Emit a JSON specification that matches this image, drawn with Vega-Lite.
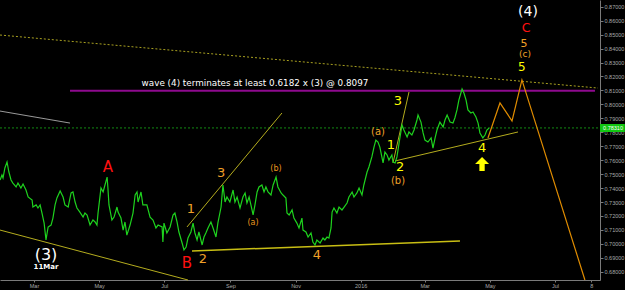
{
 "$schema": "https://vega.github.io/schema/vega-lite/v6.json",
 "width": 600,
 "height": 280,
 "autosize": {"type": "none"},
 "padding": {"left": 0, "top": 0, "right": 25, "bottom": 10},
 "background": "#000000",
 "config": {
  "view": {"stroke": null},
  "axis": {"domainColor": "#7a7a7a", "tickColor": "#7a7a7a", "labelColor": "#a8a8a8", "labelFont": "Liberation Sans", "labelFontSize": 5.5, "grid": false, "title": null, "labelOverlap": false, "labelFlush": false}
 },
 "datasets": {
  "price": [
   {"t":"2015-01-28T06:00","p":0.7458},{"t":"2015-01-30T00:00","p":0.7494},{"t":"2015-01-31T00:00","p":0.7472},{"t":"2015-02-01T18:00","p":0.7544},{"t":"2015-02-03T18:00","p":0.7587},{"t":"2015-02-05T12:00","p":0.7515},{"t":"2015-02-07T12:00","p":0.7458},{"t":"2015-02-09T06:00","p":0.7436},{"t":"2015-02-12T06:00","p":0.7408},{"t":"2015-02-14T00:00","p":0.7436},{"t":"2015-02-16T18:00","p":0.7400},{"t":"2015-02-18T18:00","p":0.7429},{"t":"2015-02-21T12:00","p":0.7386},{"t":"2015-02-23T12:00","p":0.7336},{"t":"2015-02-27T06:00","p":0.7314},{"t":"2015-02-28T00:00","p":0.7264},{"t":"2015-03-03T00:00","p":0.7279},{"t":"2015-03-04T18:00","p":0.7257},{"t":"2015-03-06T18:00","p":0.7279},{"t":"2015-03-08T12:00","p":0.7221},{"t":"2015-03-10T12:00","p":0.7149},{"t":"2015-03-12T06:00","p":0.7028},{"t":"2015-03-14T06:00","p":0.7121},{"t":"2015-03-17T00:00","p":0.7135},{"t":"2015-03-18T18:00","p":0.7185},{"t":"2015-03-20T18:00","p":0.7279},{"t":"2015-03-22T12:00","p":0.7329},{"t":"2015-03-25T12:00","p":0.7379},{"t":"2015-03-28T06:00","p":0.7336},{"t":"2015-03-30T00:00","p":0.7279},{"t":"2015-04-02T00:00","p":0.7264},{"t":"2015-04-04T18:00","p":0.7365},{"t":"2015-04-06T12:00","p":0.7372},{"t":"2015-04-08T12:00","p":0.7300},{"t":"2015-04-10T06:00","p":0.7257},{"t":"2015-04-13T00:00","p":0.7228},{"t":"2015-04-16T00:00","p":0.7192},{"t":"2015-04-17T18:00","p":0.7221},{"t":"2015-04-19T18:00","p":0.7207},{"t":"2015-04-22T12:00","p":0.7135},{"t":"2015-04-25T06:00","p":0.7171},{"t":"2015-04-27T06:00","p":0.7157},{"t":"2015-04-29T00:00","p":0.7135},{"t":"2015-04-30T00:00","p":0.7221},{"t":"2015-05-02T18:00","p":0.7400},{"t":"2015-05-04T18:00","p":0.7372},{"t":"2015-05-06T12:00","p":0.7422},{"t":"2015-05-08T12:00","p":0.7479},{"t":"2015-05-09T06:00","p":0.7400},{"t":"2015-05-10T06:00","p":0.7279},{"t":"2015-05-13T00:00","p":0.7171},{"t":"2015-05-15T00:00","p":0.7192},{"t":"2015-05-17T18:00","p":0.7264},{"t":"2015-05-18T18:00","p":0.7228},{"t":"2015-05-21T12:00","p":0.7185},{"t":"2015-05-23T12:00","p":0.7099},{"t":"2015-05-25T06:00","p":0.7157},{"t":"2015-05-27T00:00","p":0.7063},{"t":"2015-05-30T00:00","p":0.7135},{"t":"2015-06-01T18:00","p":0.7221},{"t":"2015-06-03T18:00","p":0.7350},{"t":"2015-06-05T12:00","p":0.7372},{"t":"2015-06-06T12:00","p":0.7300},{"t":"2015-06-09T06:00","p":0.7372},{"t":"2015-06-11T00:00","p":0.7279},{"t":"2015-06-14T18:00","p":0.7279},{"t":"2015-06-17T18:00","p":0.7192},{"t":"2015-06-20T12:00","p":0.7171},{"t":"2015-06-23T06:00","p":0.7114},{"t":"2015-06-25T06:00","p":0.7135},{"t":"2015-06-29T00:00","p":0.7121},{"t":"2015-06-29T18:00","p":0.7013},{"t":"2015-06-30T18:00","p":0.7149},{"t":"2015-07-03T12:00","p":0.7078},{"t":"2015-07-06T12:00","p":0.7121},{"t":"2015-07-09T06:00","p":0.7207},{"t":"2015-07-11T00:00","p":0.7221},{"t":"2015-07-13T00:00","p":0.7157},{"t":"2015-07-14T18:00","p":0.7085},{"t":"2015-07-17T18:00","p":0.7006},{"t":"2015-07-19T12:00","p":0.6956},{"t":"2015-07-21T12:00","p":0.6977},{"t":"2015-07-23T06:00","p":0.7042},{"t":"2015-07-26T00:00","p":0.7085},{"t":"2015-07-28T00:00","p":0.7149},{"t":"2015-07-29T18:00","p":0.7078},{"t":"2015-07-31T18:00","p":0.7028},{"t":"2015-08-02T12:00","p":0.7085},{"t":"2015-08-05T12:00","p":0.6992},{"t":"2015-08-07T06:00","p":0.7049},{"t":"2015-08-09T00:00","p":0.7078},{"t":"2015-08-11T00:00","p":0.7114},{"t":"2015-08-13T18:00","p":0.7157},{"t":"2015-08-15T18:00","p":0.7114},{"t":"2015-08-18T12:00","p":0.7049},{"t":"2015-08-20T06:00","p":0.7149},{"t":"2015-08-23T06:00","p":0.7264},{"t":"2015-08-25T00:00","p":0.7422},{"t":"2015-08-27T00:00","p":0.7300},{"t":"2015-08-28T18:00","p":0.7336},{"t":"2015-08-31T12:00","p":0.7300},{"t":"2015-09-03T12:00","p":0.7386},{"t":"2015-09-05T06:00","p":0.7300},{"t":"2015-09-07T06:00","p":0.7336},{"t":"2015-09-10T00:00","p":0.7257},{"t":"2015-09-12T18:00","p":0.7336},{"t":"2015-09-14T18:00","p":0.7365},{"t":"2015-09-16T12:00","p":0.7293},{"t":"2015-09-18T12:00","p":0.7336},{"t":"2015-09-21T06:00","p":0.7243},{"t":"2015-09-22T06:00","p":0.7207},{"t":"2015-09-24T00:00","p":0.7279},{"t":"2015-09-26T00:00","p":0.7372},{"t":"2015-09-27T18:00","p":0.7408},{"t":"2015-09-30T12:00","p":0.7422},{"t":"2015-10-02T12:00","p":0.7372},{"t":"2015-10-04T06:00","p":0.7408},{"t":"2015-10-06T06:00","p":0.7372},{"t":"2015-10-09T00:00","p":0.7350},{"t":"2015-10-11T00:00","p":0.7422},{"t":"2015-10-13T18:00","p":0.7479},{"t":"2015-10-15T12:00","p":0.7408},{"t":"2015-10-18T12:00","p":0.7365},{"t":"2015-10-20T06:00","p":0.7350},{"t":"2015-10-23T00:00","p":0.7329},{"t":"2015-10-24T00:00","p":0.7221},{"t":"2015-10-26T00:00","p":0.7207},{"t":"2015-10-28T18:00","p":0.7243},{"t":"2015-10-30T12:00","p":0.7185},{"t":"2015-11-02T06:00","p":0.7149},{"t":"2015-11-04T06:00","p":0.7114},{"t":"2015-11-07T00:00","p":0.7185},{"t":"2015-11-08T00:00","p":0.7099},{"t":"2015-11-10T18:00","p":0.7085},{"t":"2015-11-12T18:00","p":0.7049},{"t":"2015-11-15T12:00","p":0.7078},{"t":"2015-11-17T06:00","p":0.7013},{"t":"2015-11-19T06:00","p":0.6992},{"t":"2015-11-21T00:00","p":0.7028},{"t":"2015-11-24T00:00","p":0.7006},{"t":"2015-11-26T18:00","p":0.7042},{"t":"2015-11-28T12:00","p":0.7028},{"t":"2015-11-30T12:00","p":0.7049},{"t":"2015-12-02T06:00","p":0.7042},{"t":"2015-12-04T06:00","p":0.7114},{"t":"2015-12-05T06:00","p":0.7228},{"t":"2015-12-07T00:00","p":0.7257},{"t":"2015-12-09T18:00","p":0.7221},{"t":"2015-12-11T18:00","p":0.7264},{"t":"2015-12-14T12:00","p":0.7243},{"t":"2015-12-16T12:00","p":0.7264},{"t":"2015-12-19T06:00","p":0.7293},{"t":"2015-12-21T00:00","p":0.7336},{"t":"2015-12-24T00:00","p":0.7372},{"t":"2015-12-25T18:00","p":0.7336},{"t":"2015-12-28T12:00","p":0.7365},{"t":"2015-12-30T12:00","p":0.7400},{"t":"2016-01-02T06:00","p":0.7350},{"t":"2016-01-04T00:00","p":0.7422},{"t":"2016-01-07T00:00","p":0.7515},{"t":"2016-01-08T18:00","p":0.7551},{"t":"2016-01-11T12:00","p":0.7623},{"t":"2016-01-13T12:00","p":0.7694},{"t":"2016-01-15T06:00","p":0.7744},{"t":"2016-01-17T06:00","p":0.7730},{"t":"2016-01-19T00:00","p":0.7694},{"t":"2016-01-22T00:00","p":0.7580},{"t":"2016-01-23T18:00","p":0.7658},{"t":"2016-01-25T18:00","p":0.7637},{"t":"2016-01-27T12:00","p":0.7601},{"t":"2016-01-30T06:00","p":0.7637},{"t":"2016-01-31T06:00","p":0.7587},{"t":"2016-02-02T06:00","p":0.7580},{"t":"2016-02-04T00:00","p":0.7623},{"t":"2016-02-06T00:00","p":0.7723},{"t":"2016-02-08T18:00","p":0.7852},{"t":"2016-02-10T12:00","p":0.7816},{"t":"2016-02-13T12:00","p":0.7766},{"t":"2016-02-15T06:00","p":0.7802},{"t":"2016-02-18T00:00","p":0.7780},{"t":"2016-02-20T00:00","p":0.7816},{"t":"2016-02-22T18:00","p":0.7888},{"t":"2016-02-23T18:00","p":0.7924},{"t":"2016-02-26T12:00","p":0.7873},{"t":"2016-02-28T12:00","p":0.7795},{"t":"2016-03-01T06:00","p":0.7744},{"t":"2016-03-04T00:00","p":0.7730},{"t":"2016-03-07T00:00","p":0.7759},{"t":"2016-03-08T18:00","p":0.7687},{"t":"2016-03-10T18:00","p":0.7759},{"t":"2016-03-12T12:00","p":0.7816},{"t":"2016-03-15T06:00","p":0.7873},{"t":"2016-03-18T06:00","p":0.7838},{"t":"2016-03-20T00:00","p":0.7888},{"t":"2016-03-22T00:00","p":0.7924},{"t":"2016-03-24T18:00","p":0.7873},{"t":"2016-03-27T12:00","p":0.7866},{"t":"2016-03-29T06:00","p":0.7902},{"t":"2016-03-31T06:00","p":0.7960},{"t":"2016-04-02T00:00","p":0.8031},{"t":"2016-04-05T00:00","p":0.8110},{"t":"2016-04-06T18:00","p":0.8081},{"t":"2016-04-08T18:00","p":0.8031},{"t":"2016-04-10T12:00","p":0.7960},{"t":"2016-04-13T06:00","p":0.7938},{"t":"2016-04-15T06:00","p":0.7945},{"t":"2016-04-18T00:00","p":0.7909},{"t":"2016-04-20T00:00","p":0.7866},{"t":"2016-04-21T18:00","p":0.7795},{"t":"2016-04-24T12:00","p":0.7759},{"t":"2016-04-26T12:00","p":0.7780},{"t":"2016-04-28T06:00","p":0.7816},{"t":"2016-04-30T06:00","p":0.7830}
  ],
  "lines": [
   {"g":"upper","t":"2015-01-28T04:00","p":0.8497},{"g":"upper","t":"2016-08-10T07:00","p":0.8117},
   {"g":"purple","t":"2015-04-03T18:00","p":0.8097},{"g":"purple","t":"2016-08-07T12:00","p":0.8097},
   {"g":"grey","t":"2015-01-28T04:00","p":0.7952},{"g":"grey","t":"2015-04-03T18:00","p":0.7866},
   {"g":"current","t":"2015-01-28T04:00","p":0.7831},{"g":"current","t":"2016-08-12T05:00","p":0.7831},
   {"g":"lower","t":"2015-01-28T04:00","p":0.7099},{"g":"lower","t":"2015-07-23T06:00","p":0.6741},
   {"g":"r13","t":"2015-07-22T08:00","p":0.7121},{"g":"r13","t":"2015-10-19T07:00","p":0.7938},
   {"g":"base","t":"2015-07-27T00:00","p":0.6949},{"g":"base","t":"2016-04-03T01:00","p":0.7020},
   {"g":"l24","t":"2016-02-02T04:00","p":0.7594},{"g":"l24","t":"2016-05-27T10:00","p":0.7802},
   {"g":"l23","t":"2016-01-31T07:00","p":0.7580},{"g":"l23","t":"2016-02-15T07:00","p":0.8089}
  ],
  "projection": [
   {"t":"2016-04-29T06:00","p":0.7759},{"t":"2016-05-10T12:00","p":0.8010},{"t":"2016-05-21T19:00","p":0.7881},{"t":"2016-05-31T02:00","p":0.8175},{"t":"2016-07-29T02:00","p":0.6741}
  ]
 },
 "encoding": {
  "x": {"field": "t", "type": "temporal",
        "scale": {"domain": ["2015-01-28T04:00", "2016-08-12T05:00"]},
        "axis": {"orient": "bottom", "tickSize": 2, "labelPadding": 1,
                 "values": [{"year":2015,"month":3,"date":1},{"year":2015,"month":5,"date":1},{"year":2015,"month":7,"date":1},{"year":2015,"month":9,"date":1},{"year":2015,"month":11,"date":1},{"year":2016,"month":1,"date":1},{"year":2016,"month":3,"date":1},{"year":2016,"month":5,"date":1},{"year":2016,"month":7,"date":1},{"year":2016,"month":8,"date":4}],
                 "labelExpr": "month(datum.value) == 0 ? '2016' : (month(datum.value) == 7 ? '8' : timeFormat(datum.value, '%b'))"}},
  "y": {"field": "p", "type": "quantitative",
        "scale": {"domain": [0.6741, 0.8748], "zero": false, "nice": false},
        "axis": {"orient": "right", "tickSize": 3, "labelPadding": 1, "format": ".5f",
                 "values": [0.68,0.69,0.70,0.71,0.72,0.73,0.74,0.75,0.76,0.77,0.78,0.79,0.80,0.81,0.82,0.83,0.84,0.85,0.86,0.87]}}
 },
 "layer": [
  {"data": {"name": "lines"}, "transform": [{"filter": "datum.g == 'current'"}], "mark": {"type": "line", "color": "#138a13", "strokeWidth": 1, "strokeDash": [2, 2]}},
  {"data": {"name": "lines"}, "transform": [{"filter": "datum.g == 'upper'"}], "mark": {"type": "line", "color": "#a8a020", "strokeWidth": 1, "strokeDash": [2, 2]}},
  {"data": {"name": "lines"}, "transform": [{"filter": "datum.g == 'purple'"}], "mark": {"type": "line", "color": "#8e0a8e", "strokeWidth": 2}},
  {"data": {"name": "lines"}, "transform": [{"filter": "datum.g == 'grey'"}], "mark": {"type": "line", "color": "#9a9a9a", "strokeWidth": 1}},
  {"data": {"name": "lines"}, "transform": [{"filter": "datum.g == 'lower' || datum.g == 'r13' || datum.g == 'l24' || datum.g == 'l23'"}], "mark": {"type": "line", "color": "#b4ac1e", "strokeWidth": 1}, "encoding": {"detail": {"field": "g"}}},
  {"data": {"name": "lines"}, "transform": [{"filter": "datum.g == 'base'"}], "mark": {"type": "line", "color": "#c8be14", "strokeWidth": 1.5}},
  {"data": {"name": "price"}, "mark": {"type": "line", "color": "#1ed21e", "strokeWidth": 1.2}},
  {"data": {"name": "projection"}, "mark": {"type": "line", "color": "#e08c00", "strokeWidth": 1.2}},
  {"data": {"values": [{"t":"2015-09-24T00:00","p":0.8153,"s":"wave (4) terminates at least 0.6182 x (3) @ 0.8097"}]},
   "mark": {"type": "text", "color": "#ffffff", "font": "DejaVu Sans", "fontSize": 8.8, "align": "center", "baseline": "middle"}, "encoding": {"text": {"field": "s"}}},
  {"data": {"values": [{"t":"2015-05-09T08:00","p":0.7551,"s":"A"},{"t":"2015-07-22T08:00","p":0.6863,"s":"B"}]},
   "mark": {"type": "text", "color": "#ff1010", "font": "DejaVu Sans", "fontSize": 15, "align": "center", "baseline": "middle"}, "encoding": {"text": {"field": "s"}}},
  {"data": {"values": [{"t":"2016-06-03T22:00","p":0.8545,"s":"C"}]},
   "mark": {"type": "text", "color": "#ff1010", "font": "DejaVu Sans", "fontSize": 12.5, "align": "center", "baseline": "middle"}, "encoding": {"text": {"field": "s"}}},
  {"data": {"values": [{"t":"2015-03-12T06:00","p":0.6920,"s":"(3)"}]},
   "mark": {"type": "text", "color": "#ffffff", "font": "DejaVu Sans", "fontSize": 16, "align": "center", "baseline": "middle"}, "encoding": {"text": {"field": "s"}}},
  {"data": {"values": [{"t":"2016-06-05T17:00","p":0.8662,"s":"(4)"}]},
   "mark": {"type": "text", "color": "#ffffff", "font": "DejaVu Sans", "fontSize": 14, "align": "center", "baseline": "middle"}, "encoding": {"text": {"field": "s"}}},
  {"data": {"values": [{"t":"2015-03-12T06:00","p":0.6834,"s":"11Mar"}]},
   "mark": {"type": "text", "color": "#ffffff", "font": "DejaVu Sans", "fontSize": 7, "fontWeight": "bold", "align": "center", "baseline": "middle"}, "encoding": {"text": {"field": "s"}}},
  {"data": {"values": [{"t":"2015-07-26T02:00","p":0.7250,"s":"1"},{"t":"2015-08-06T07:00","p":0.6891,"s":"2"},{"t":"2015-08-23T05:00","p":0.7508,"s":"3"},{"t":"2015-11-21T02:00","p":0.6920,"s":"4"}]},
   "mark": {"type": "text", "color": "#f0a028", "font": "DejaVu Sans", "fontSize": 13, "align": "center", "baseline": "middle"}, "encoding": {"text": {"field": "s"}}},
  {"data": {"values": [{"t":"2016-06-02T00:00","p":0.8434,"s":"5"}]},
   "mark": {"type": "text", "color": "#f0a028", "font": "DejaVu Sans", "fontSize": 11, "align": "center", "baseline": "middle"}, "encoding": {"text": {"field": "s"}}},
  {"data": {"values": [{"t":"2015-09-22T04:00","p":0.7149,"s":"(a)"},{"t":"2015-10-13T17:00","p":0.7537,"s":"(b)"}]},
   "mark": {"type": "text", "color": "#e8961e", "font": "DejaVu Sans", "fontSize": 8, "align": "center", "baseline": "middle"}, "encoding": {"text": {"field": "s"}}},
  {"data": {"values": [{"t":"2016-01-17T05:00","p":0.7802,"s":"(a)"},{"t":"2016-02-05T00:00","p":0.7451,"s":"(b)"}]},
   "mark": {"type": "text", "color": "#f0a028", "font": "DejaVu Sans", "fontSize": 10, "align": "center", "baseline": "middle"}, "encoding": {"text": {"field": "s"}}},
  {"data": {"values": [{"t":"2016-06-02T22:00","p":0.8359,"s":"(c)"}]},
   "mark": {"type": "text", "color": "#f0a028", "font": "DejaVu Sans", "fontSize": 9, "align": "center", "baseline": "middle"}, "encoding": {"text": {"field": "s"}}},
  {"data": {"values": [{"t":"2016-01-29T10:00","p":0.7709,"s":"1"},{"t":"2016-02-06T22:00","p":0.7551,"s":"2"},{"t":"2016-02-05T00:00","p":0.8022,"s":"3"},{"t":"2016-04-23T17:00","p":0.7687,"s":"4"}]},
   "mark": {"type": "text", "color": "#ffff00", "font": "DejaVu Sans", "fontSize": 13, "align": "center", "baseline": "middle"}, "encoding": {"text": {"field": "s"}}},
  {"data": {"values": [{"t":"2016-05-31T02:00","p":0.8270,"s":"5"}]},
   "mark": {"type": "text", "color": "#ffff00", "font": "DejaVu Sans", "fontSize": 12, "align": "center", "baseline": "middle"}, "encoding": {"text": {"field": "s"}}},
  {"data": {"values": [{"t":"2016-04-23T17:00","p":0.7572}]},
   "mark": {"type": "point", "shape": "M0,-1L1,0L0.38,0L0.38,1L-0.38,1L-0.38,0L-1,0Z", "size": 196, "filled": true, "color": "#ffff00", "opacity": 1}},
  {"data": {"values": [{"t":"2016-08-12T05:00","t2":"2016-09-04T12:00","p":0.7859,"p2":0.7802}]},
   "mark": {"type": "rect", "color": "#12c812"}, "encoding": {"x2": {"field": "t2"}, "y2": {"field": "p2"}}},
  {"data": {"values": [{"t":"2016-08-24T10:00","p":0.7831,"s":"0.78310"}]},
   "mark": {"type": "text", "color": "#ffffff", "font": "Liberation Sans", "fontSize": 5.5, "align": "center", "baseline": "middle"}, "encoding": {"text": {"field": "s"}}}
 ]
}
